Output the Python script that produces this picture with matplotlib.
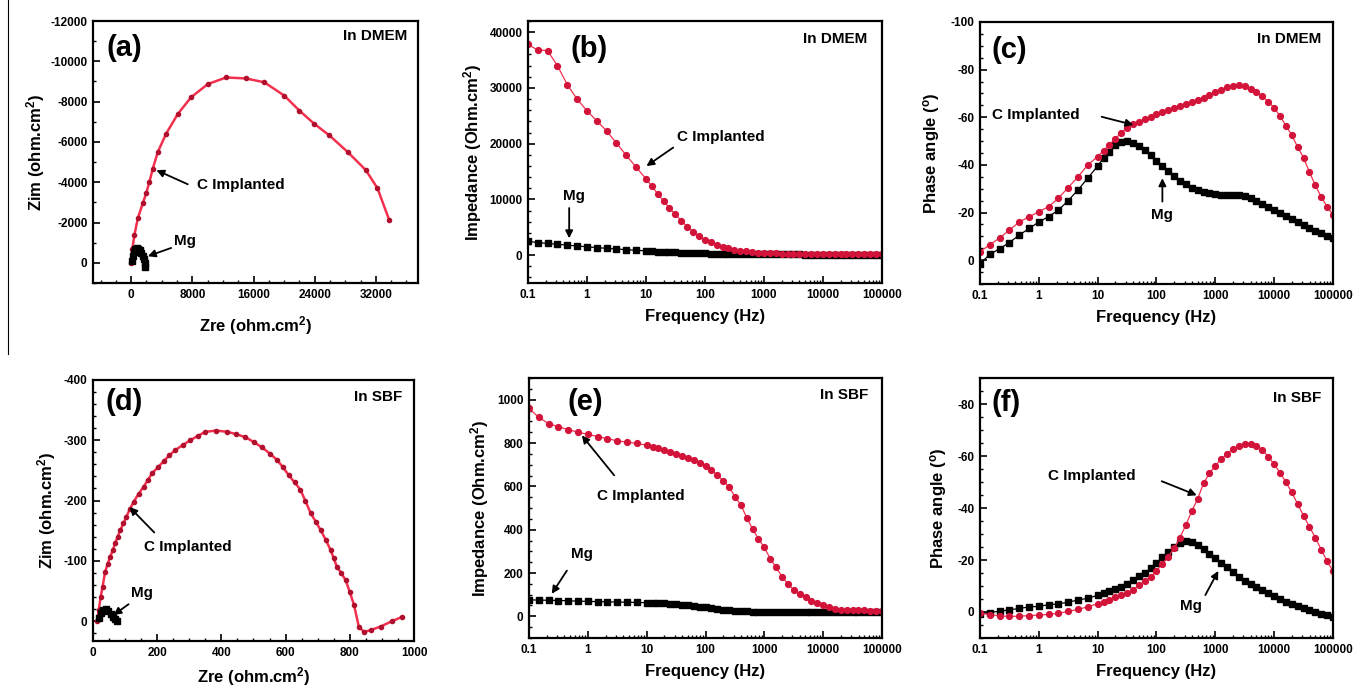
import matplotlib
matplotlib.use("Agg")
import matplotlib.pyplot as plt
from matplotlib.lines import Line2D
from matplotlib.ticker import MultipleLocator, LogLocator, FixedLocator, FixedFormatter, NullFormatter

plt.rcParams['font.family'] = ['Liberation Sans', 'DejaVu Sans']
plt.rcParams['font.weight'] = 'bold'
plt.rcParams['axes.labelweight'] = 'bold'
plt.rcParams['axes.unicode_minus'] = False
plt.rcParams['mathtext.fontset'] = 'custom'
plt.rcParams['mathtext.rm'] = 'Liberation Sans:bold'
plt.rcParams['mathtext.bf'] = 'Liberation Sans:bold'
plt.rcParams['mathtext.default'] = 'bf'

# ---- Nyquist data ----
zre_dmem_c = [0, 150, 430, 870, 1520, 1960, 2390, 2830, 3480, 4570, 6100, 7840, 10020,
              12410, 15020, 17410, 20020, 21980, 23940, 25900, 28290, 30690, 32210, 33730]
zim_dmem_c = [0, -700, -1400, -2220, -2960, -3450, -4030, -4680, -5500, -6410, -7390, -8220, -8870,
              -9200, -9150, -8960, -8300, -7560, -6900, -6330, -5510, -4600, -3700, -2140]
zre_dmem_mg = [100, 200, 350, 500, 700, 900, 1100, 1300, 1500, 1650, 1750, 1800]
zim_dmem_mg = [-100, -350, -550, -680, -720, -700, -620, -500, -340, -180, 0, 200]

zre_sbf_c = [12, 18, 24, 30, 38, 46, 54, 62, 69, 77, 85, 95, 104, 115, 127, 142, 158, 171, 184, 202,
             220, 238, 257, 280, 303, 326, 350, 384, 418, 447, 475, 501, 527, 551, 574, 592, 610, 628,
             646, 662, 678, 694, 709, 725, 740, 750, 760, 774, 787, 800, 813, 828, 844, 865, 896, 932, 963]
zim_sbf_c = [0, -18, -40, -57, -82, -95, -107, -118, -129, -140, -151, -162, -173, -186, -198, -211, -223,
             -234, -245, -255, -265, -275, -284, -292, -300, -307, -314, -316, -314, -310, -305, -297, -288,
             -278, -267, -255, -242, -230, -218, -199, -179, -165, -151, -135, -118, -104, -90, -79, -68,
             -48, -27, 9, 18, 15, 9, 0, -7]
zre_sbf_mg = [18, 25, 32, 40, 48, 56, 63, 70, 76]
zim_sbf_mg = [-5, -14, -19, -20, -17, -12, -7, -3, 0]

# ---- Bode data ----
freq = [0.1, 0.147, 0.215, 0.316, 0.464, 0.681, 1.0, 1.47, 2.15, 3.16, 4.64, 6.81, 10.0,
        12.6, 15.8, 20.0, 25.1, 31.6, 39.8, 50.1, 63.1, 79.4, 100,
        126, 158, 200, 251, 316, 398, 501, 631, 794, 1000,
        1259, 1585, 1995, 2512, 3162, 3981, 5012, 6310, 7943, 10000,
        12589, 15849, 19953, 25119, 31623, 39811, 50119, 63096, 79433, 100000]

z_dmem_c = [37800, 36800, 36700, 34000, 30600, 28000, 25900, 24100, 22300, 20100, 17900, 15800, 13700,
            12400, 11000, 9700, 8400, 7300, 6200, 5100, 4200, 3500, 2800,
            2300, 1900, 1550, 1250, 1000, 820, 680, 560, 470, 400,
            340, 300, 260, 230, 210, 190, 175, 165, 155, 148,
            142, 137, 133, 130, 127, 125, 123, 121, 120, 119]
z_dmem_mg = [2500, 2250, 2100, 1950, 1800, 1650, 1500, 1350, 1230, 1100, 980, 870, 770,
             700, 640, 580, 530, 480, 440, 400, 370, 340, 310,
             290, 270, 250, 235, 220, 210, 200, 190, 180, 170,
             160, 150, 140, 132, 125, 118, 112, 106, 100, 95,
             90, 86, 82, 78, 75, 72, 70, 68, 66, 65]

ph_dmem_c = [-3.5, -6.5, -9.3, -12.6, -16.0, -18.2, -20.3, -22.5, -26.0, -30.5, -35.0, -40.0, -43.5,
             -46.0, -48.5, -51.0, -53.5, -55.5, -57.0, -58.2, -59.3, -60.2, -61.2,
             -62.2, -63.0, -63.8, -64.6, -65.5, -66.3, -67.2, -68.2, -69.2, -70.5,
             -71.5, -72.5, -73.2, -73.4, -73.0, -72.0, -70.5, -68.8, -66.5, -64.0,
             -60.5, -56.5, -52.5, -47.5, -43.0, -37.0, -31.5, -26.5, -22.5, -19.0]
ph_dmem_mg = [1.5, -2.4, -4.8, -7.4, -10.5, -13.3, -16.0, -18.3, -21.0, -25.0, -29.5, -34.5, -39.5,
              -43.0, -45.5, -48.3, -49.5, -50.0, -49.3, -48.0, -46.3, -44.0, -41.5,
              -39.5, -37.3, -35.2, -33.3, -31.8, -30.4, -29.3, -28.5, -28.0, -27.7,
              -27.5, -27.4, -27.4, -27.3, -27.0, -26.0, -24.8, -23.6, -22.4, -21.0,
              -19.7, -18.4, -17.2, -16.0, -14.8, -13.5, -12.2, -11.2, -10.2, -9.5]

z_sbf_c = [960, 918, 890, 875, 862, 850, 840, 830, 820, 810, 804, 798, 790,
           783, 777, 770, 760, 750, 741, 733, 722, 709, 694,
           676, 652, 625, 598, 553, 514, 456, 403, 358, 318,
           266, 226, 183, 150, 122, 103, 89, 72, 60, 51,
           41, 34, 30, 28, 27, 27, 27, 26, 26, 26]
z_sbf_mg = [76, 75, 74, 73, 72, 70, 69, 68, 67, 66, 65, 64, 63,
            62, 61, 60, 58, 56, 54, 51, 48, 45, 41,
            37, 34, 31, 28, 26, 24, 22.5, 21.5, 21, 20.5,
            20, 20, 19.5, 19.5, 19, 19, 19, 19, 19, 19,
            19, 19, 19, 19, 19, 19, 19, 19, 19, 19]

ph_sbf_c = [0.5, 1.0, 1.5, 1.7, 1.6, 1.4, 1.2, 0.9, 0.5, -0.2, -1.0, -2.0, -3.2,
            -4.0, -4.8, -5.6, -6.4, -7.3, -8.4, -10.3, -11.8, -13.5, -15.8,
            -18.5, -21.3, -24.5, -28.6, -33.5, -38.8, -43.5, -49.5, -53.3, -56.3,
            -58.8, -60.8, -62.7, -64.0, -64.8, -64.8, -64.0, -62.3, -59.8, -56.8,
            -53.6, -50.0, -46.0, -41.5, -37.0, -32.8, -28.6, -24.0, -19.5, -15.8]
ph_sbf_mg = [0.8, 0.2, -0.3, -0.8, -1.4, -1.9, -2.2, -2.8, -3.1, -3.8, -4.6, -5.3, -6.4,
             -7.2, -8.0, -8.8, -9.8, -10.9, -12.4, -13.8, -14.9, -16.8, -18.8,
             -21.2, -23.1, -25.0, -26.7, -27.3, -27.0, -25.8, -24.3, -22.5, -20.6,
             -18.8, -17.2, -15.3, -13.5, -12.0, -10.7, -9.5, -8.4, -7.3, -6.2,
             -5.0, -3.9, -3.1, -2.3, -1.6, -0.8, -0.1, 0.6, 1.3, 2.0]

decades = [0.1, 1, 10, 100, 1000, 10000, 100000]
decade_labels = ['0.1', '1', '10', '100', '1000', '10000', '100000']

RED_LINE = '#f2304e'
RED_MK = '#d3143a'

fig = plt.figure(figsize=(13.53, 6.94), dpi=100)
ax_a = fig.add_axes([0.0687, 0.5922, 0.2402, 0.3775])
ax_b = fig.add_axes([0.3902, 0.5922, 0.2616, 0.3775])
ax_c = fig.add_axes([0.7243, 0.5908, 0.2609, 0.3775])
ax_d = fig.add_axes([0.0687, 0.0764, 0.2373, 0.3761])
ax_e = fig.add_axes([0.3910, 0.0807, 0.2609, 0.3746])
ax_f = fig.add_axes([0.7243, 0.0807, 0.2609, 0.3746])


def style(ax):
    for s in ax.spines.values():
        s.set_linewidth(1.6)
    ax.tick_params(which='both', direction='in', top=False, right=False, labelsize=8.5, pad=4)
    ax.tick_params(which='major', length=5, width=1.2)
    ax.tick_params(which='minor', length=2.5, width=1.0)


def log_axis(ax):
    ax.set_xscale('log')
    ax.set_xlim(0.1, 100000)
    ax.xaxis.set_major_locator(FixedLocator(decades))
    ax.xaxis.set_major_formatter(FixedFormatter(decade_labels))
    ax.xaxis.set_minor_locator(LogLocator(base=10, subs=range(2, 10), numticks=20))
    ax.xaxis.set_minor_formatter(NullFormatter())
    ax.set_xlabel('Frequency (Hz)', fontsize=12, labelpad=6)


def tags(ax, panel, medium, px, py, mx, my):
    ax.text(px, py, panel, transform=ax.transAxes, fontsize=21, fontweight='bold', ha='left', va='center')
    ax.text(mx, my, medium, transform=ax.transAxes, fontsize=11, fontweight='bold', ha='right', va='center')


def note(ax, label, txy, tail, tip, ha='left'):
    ax.text(txy[0], txy[1], label, fontsize=11, fontweight='bold', ha=ha, va='center')
    ax.annotate('', xy=tip, xytext=tail,
                arrowprops=dict(arrowstyle='-|>', color='black', lw=1.3, mutation_scale=11,
                                shrinkA=0, shrinkB=0))


def bode(ax, yc, ym):
    ax.plot(freq, ym, '-', color='black', lw=0.9, marker='s', ms=3.8, mfc='black', mec='black')
    ax.plot(freq, yc, '-', color=RED_LINE, lw=0.9, marker='o', ms=4.2, mfc=RED_MK, mec=RED_MK)


# (a)
ax = ax_a
style(ax)
ax.plot(zre_dmem_c, zim_dmem_c, '-', color=RED_LINE, lw=1.8, marker='o', ms=3, mfc='#b0102e', mec='#b0102e')
ax.plot(zre_dmem_mg, zim_dmem_mg, '-', color='black', lw=3, marker='s', ms=4, mfc='black', mec='black')
ax.set_xlim(-5000, 37500)
ax.set_ylim(1000, -12000)
ax.xaxis.set_major_locator(FixedLocator([0, 8000, 16000, 24000, 32000]))
ax.xaxis.set_minor_locator(MultipleLocator(2000))
ax.yaxis.set_major_locator(MultipleLocator(2000))
ax.yaxis.set_minor_locator(MultipleLocator(1000))
ax.set_xlabel('Zre (ohm.cm$^2$)', fontsize=12, labelpad=10)
ax.set_ylabel('Zim (ohm.cm$^2$)', fontsize=12, labelpad=2)
tags(ax, '(a)', 'In DMEM', 0.043, 0.897, 0.966, 0.943)
note(ax, 'C Implanted', (8620, -3880), (7400, -3900), (3300, -4600))
note(ax, 'Mg', (7050, -1070), (5224, -740), (2180, -330), ha='center')

# (b)
ax = ax_b
style(ax)
bode(ax, z_dmem_c, z_dmem_mg)
log_axis(ax)
ax.set_ylim(-5000, 42000)
ax.yaxis.set_major_locator(MultipleLocator(10000))
ax.yaxis.set_minor_locator(MultipleLocator(2000))
ax.set_ylabel('Impedance (Ohm.cm$^2$)', fontsize=12, labelpad=4)
tags(ax, '(b)', 'In DMEM', 0.119, 0.893, 0.96, 0.93)
note(ax, 'C Implanted', (33, 21120), (29, 19300), (10.2, 15980))
note(ax, 'Mg', (0.6, 10550), (0.5, 8450), (0.5, 3020), ha='center')

# (c)
ax = ax_c
style(ax)
bode(ax, ph_dmem_c, ph_dmem_mg)
log_axis(ax)
ax.set_ylim(10, -100)
ax.yaxis.set_major_locator(MultipleLocator(20))
ax.yaxis.set_minor_locator(MultipleLocator(5))
ax.set_ylabel('Phase angle ($^o$)', fontsize=12, labelpad=6)
tags(ax, '(c)', 'In DMEM', 0.034, 0.893, 0.968, 0.935)
note(ax, 'C Implanted', (0.158, -60.9), (11.7, -60.2), (40.5, -56.8))
note(ax, 'Mg', (126, -18.9), (126, -24.6), (126, -34.4), ha='center')

# (d)
ax = ax_d
style(ax)
ax.plot(zre_sbf_c, zim_sbf_c, '-', color=RED_LINE, lw=1.8, marker='o', ms=3, mfc='#b0102e', mec='#b0102e')
ax.plot(zre_sbf_mg, zim_sbf_mg, '-', color='black', lw=3, marker='s', ms=4, mfc='black', mec='black')
ax.set_xlim(0, 1000)
ax.set_ylim(33, -400)
ax.xaxis.set_major_locator(MultipleLocator(200))
ax.xaxis.set_minor_locator(MultipleLocator(50))
ax.yaxis.set_major_locator(MultipleLocator(100))
ax.yaxis.set_minor_locator(MultipleLocator(20))
ax.set_xlabel('Zre (ohm.cm$^2$)', fontsize=12, labelpad=5)
ax.set_ylabel('Zim (ohm.cm$^2$)', fontsize=12, labelpad=4)
tags(ax, '(d)', 'In SBF', 0.04, 0.917, 0.962, 0.935)
note(ax, 'C Implanted', (158, -123), (191, -147), (114, -189))
note(ax, 'Mg', (153, -46), (111, -28), (64, -10), ha='center')

# (e)
ax = ax_e
style(ax)
bode(ax, z_sbf_c, z_sbf_mg)
log_axis(ax)
ax.set_ylim(-100, 1100)
ax.yaxis.set_major_locator(MultipleLocator(200))
ax.yaxis.set_minor_locator(MultipleLocator(50))
ax.set_ylabel('Impedance (Ohm.cm$^2$)', fontsize=12, labelpad=4)
tags(ax, '(e)', 'In SBF', 0.11, 0.909, 0.96, 0.935)
note(ax, 'C Implanted', (1.42, 556), (2.8, 651), (0.79, 835))
note(ax, 'Mg', (0.79, 288), (0.44, 211), (0.243, 104), ha='center')

# (f)
ax = ax_f
style(ax)
bode(ax, ph_sbf_c, ph_sbf_mg)
log_axis(ax)
ax.set_ylim(10, -90)
ax.yaxis.set_major_locator(MultipleLocator(20))
ax.yaxis.set_minor_locator(MultipleLocator(5))
ax.set_ylabel('Phase angle ($^o$)', fontsize=12, labelpad=6)
tags(ax, '(f)', 'In SBF', 0.034, 0.904, 0.968, 0.923)
note(ax, 'C Implanted', (1.45, -52.4), (123, -50.3), (484, -44.9))
note(ax, 'Mg', (385, -2.4), (676, -6.5), (1125, -15.8), ha='center')

# stray vertical rule at the left margin of the scanned figure
fig.add_artist(Line2D([8 / 1353, 8 / 1353], [1.0, 1 - 354 / 694], color='black', lw=0.8))

fig.savefig('out.png', dpi=100)
